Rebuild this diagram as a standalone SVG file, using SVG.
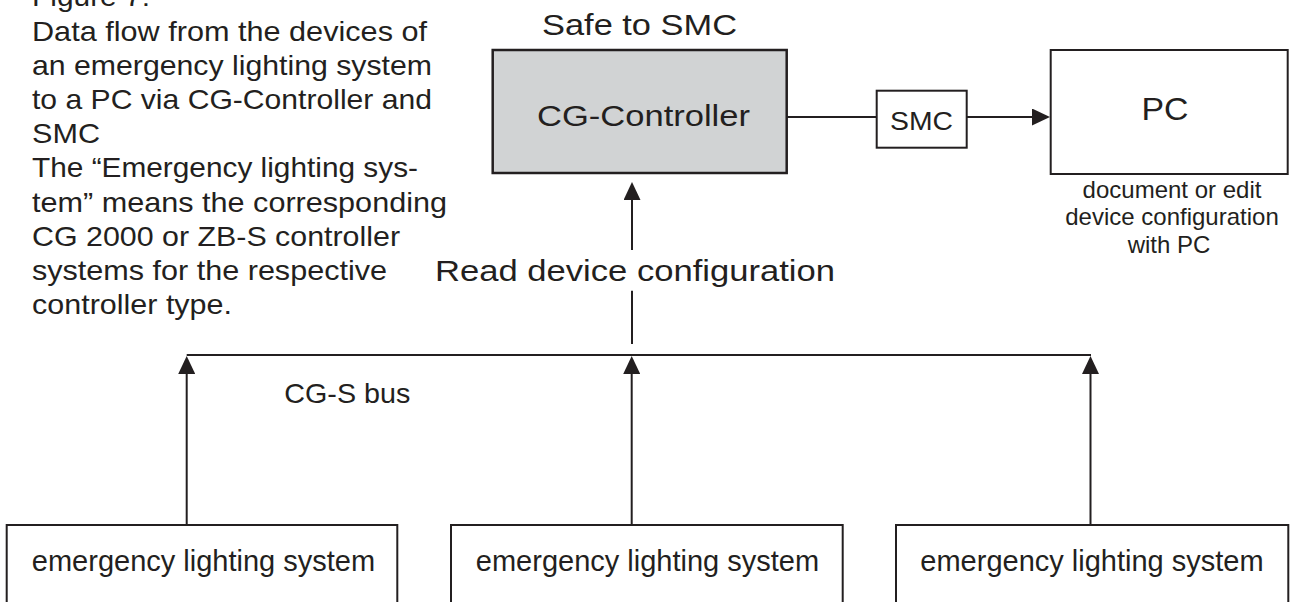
<svg xmlns="http://www.w3.org/2000/svg" width="1292" height="602" viewBox="0 0 1292 602">
<style>
  .t{font-family:"Liberation Sans",Arial,Helvetica,sans-serif;fill:#231f20}
  .p{font-size:28px}
  .box{fill:#ffffff;stroke:#231f20;stroke-width:2}
  .ln{stroke:#231f20;stroke-width:2;fill:none}
  .arr{stroke:#231f20;stroke-width:2;fill:none;marker-end:url(#ah)}
</style>
<defs>
  <marker id="ah" viewBox="0 0 18 17" refX="0" refY="8.5" markerWidth="18" markerHeight="17" markerUnits="userSpaceOnUse" orient="auto">
    <path d="M0,0 L18,8.5 L0,17 Z" fill="#231f20"/>
  </marker>
</defs>
<rect width="1292" height="602" fill="#ffffff"/>

<g id="caption" class="t p">
  <text x="32" y="6.3" textLength="118" lengthAdjust="spacingAndGlyphs">Figure 7:</text>
  <text x="32" y="40.5" textLength="395" lengthAdjust="spacingAndGlyphs">Data flow from the devices of</text>
  <text x="32" y="74.7" textLength="400" lengthAdjust="spacingAndGlyphs">an emergency lighting system</text>
  <text x="32" y="108.9" textLength="400" lengthAdjust="spacingAndGlyphs">to a PC via CG-Controller and</text>
  <text x="32" y="143.1" textLength="68" lengthAdjust="spacingAndGlyphs">SMC</text>
  <text x="32" y="177.3" textLength="386" lengthAdjust="spacingAndGlyphs">The “Emergency lighting sys-</text>
  <text x="32" y="211.5" textLength="415" lengthAdjust="spacingAndGlyphs">tem” means the corresponding</text>
  <text x="32" y="245.7" textLength="368" lengthAdjust="spacingAndGlyphs">CG 2000 or ZB-S controller</text>
  <text x="32" y="279.9" textLength="355" lengthAdjust="spacingAndGlyphs">systems for the respective</text>
  <text x="32" y="314.1" textLength="200" lengthAdjust="spacingAndGlyphs">controller type.</text>
</g>

<g id="connectors">
  <line class="ln" x1="786.7" y1="117" x2="876.7" y2="117"/>
  <line class="arr" x1="966.7" y1="117" x2="1032" y2="117"/>
  <line class="arr" x1="632" y1="250" x2="632" y2="200"/>
  <line class="ln" x1="632" y1="290.7" x2="632" y2="344"/>
  <line class="ln" x1="186.7" y1="355" x2="1091" y2="355"/>
  <line class="arr" x1="186.7" y1="525" x2="186.7" y2="374"/>
  <line class="arr" x1="631.7" y1="525" x2="631.7" y2="374"/>
  <line class="arr" x1="1090.5" y1="525" x2="1090.5" y2="374"/>
</g>

<g id="labels" class="t">
  <text x="639.5" y="35" font-size="30" text-anchor="middle" textLength="195" lengthAdjust="spacingAndGlyphs">Safe to SMC</text>
  <text x="635" y="281" font-size="30" text-anchor="middle" textLength="400" lengthAdjust="spacingAndGlyphs">Read device configuration</text>
  <text x="284.3" y="403" font-size="28" textLength="126" lengthAdjust="spacingAndGlyphs">CG-S bus</text>
</g>

<g id="cg-controller">
  <rect x="492.7" y="50" width="294" height="123" fill="#d1d3d4" stroke="#231f20" stroke-width="2.5"/>
  <text class="t" x="643.5" y="126" font-size="30" text-anchor="middle" textLength="213" lengthAdjust="spacingAndGlyphs">CG-Controller</text>
</g>

<g id="smc">
  <rect class="box" x="876.7" y="90.7" width="90" height="57"/>
  <text class="t" x="921.5" y="130" font-size="26" text-anchor="middle" textLength="63" lengthAdjust="spacingAndGlyphs">SMC</text>
</g>

<g id="pc">
  <rect class="box" x="1050.7" y="50" width="237" height="124" stroke-width="2.5"/>
  <text class="t" x="1165" y="120" font-size="32" text-anchor="middle" textLength="47" lengthAdjust="spacingAndGlyphs">PC</text>
  <text class="t" x="1172" y="198" font-size="24" text-anchor="middle">document or edit</text>
  <text class="t" x="1172" y="225" font-size="24" text-anchor="middle">device configuration</text>
  <text class="t" x="1169" y="253" font-size="24" text-anchor="middle">with PC</text>
</g>

<g id="els-1">
  <rect class="box" x="6.7" y="525" width="390.6" height="100"/>
  <text class="t" x="203.5" y="571" font-size="29" text-anchor="middle">emergency lighting system</text>
</g>
<g id="els-2">
  <rect class="box" x="451" y="525" width="391.7" height="100"/>
  <text class="t" x="647.5" y="571" font-size="29" text-anchor="middle">emergency lighting system</text>
</g>
<g id="els-3">
  <rect class="box" x="896" y="525" width="392.3" height="100"/>
  <text class="t" x="1092" y="571" font-size="29" text-anchor="middle">emergency lighting system</text>
</g>
</svg>
